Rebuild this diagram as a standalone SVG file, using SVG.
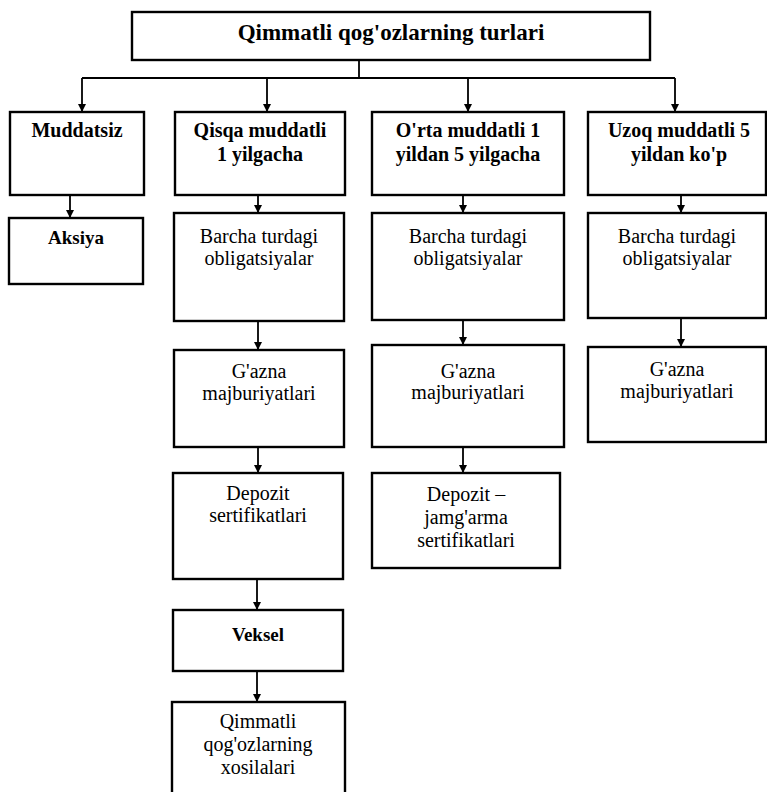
<svg xmlns="http://www.w3.org/2000/svg" width="767" height="792" viewBox="0 0 767 792">
<style>
.box{fill:#fff;stroke:#000;stroke-width:2.4}
.ln{fill:none;stroke:#000;stroke-width:1.8}
text{font-family:"Liberation Serif","Times New Roman",serif;fill:#000;text-anchor:middle}
.t{font-size:23px;font-weight:bold}
.h{font-size:20px;font-weight:bold}
.b{font-size:19px;font-weight:bold}
.n{font-size:20px}
</style>
<defs>
<marker id="arr" viewBox="0 0 10 10" refX="10" refY="5" markerWidth="10" markerHeight="8" markerUnits="userSpaceOnUse" orient="auto">
<path d="M0,0 L10,5 L0,10 z" fill="#000"/>
</marker>
</defs>
<rect width="767" height="792" fill="#fff"/>
<g id="connectors">
<path class="ln" d="M359,60 V78 M82,78 H675"/>
<path class="ln" d="M82,78 V112" marker-end="url(#arr)"/>
<path class="ln" d="M267,78 V112" marker-end="url(#arr)"/>
<path class="ln" d="M468,78 V112" marker-end="url(#arr)"/>
<path class="ln" d="M675,78 V112" marker-end="url(#arr)"/>
<path class="ln" d="M70,195 V218" marker-end="url(#arr)"/>
<path class="ln" d="M258,195 V213" marker-end="url(#arr)"/>
<path class="ln" d="M258,321 V350" marker-end="url(#arr)"/>
<path class="ln" d="M258,447 V473" marker-end="url(#arr)"/>
<path class="ln" d="M257,579 V610" marker-end="url(#arr)"/>
<path class="ln" d="M257,671 V702" marker-end="url(#arr)"/>
<path class="ln" d="M463,195 V213" marker-end="url(#arr)"/>
<path class="ln" d="M463,320 V345" marker-end="url(#arr)"/>
<path class="ln" d="M463,447 V473" marker-end="url(#arr)"/>
<path class="ln" d="M681,195 V213" marker-end="url(#arr)"/>
<path class="ln" d="M681,318 V347" marker-end="url(#arr)"/>
</g>
<g id="title">
<rect class="box" x="132" y="12" width="518" height="48"/>
<text class="t" x="391" y="40">Qimmatli qog'ozlarning turlari</text>
</g>
<g id="muddatsiz">
<rect class="box" x="10" y="112" width="134" height="83"/>
<text class="h" x="77" y="137">Muddatsiz</text>
</g>
<g id="qisqa">
<rect class="box" x="175" y="112" width="170" height="83"/>
<text class="h" x="260" y="137">Qisqa muddatli</text>
<text class="h" x="260" y="161">1 yilgacha</text>
</g>
<g id="orta">
<rect class="box" x="372" y="112" width="192" height="83"/>
<text class="h" x="468" y="137">O'rta muddatli 1</text>
<text class="h" x="468" y="161">yildan 5 yilgacha</text>
</g>
<g id="uzoq">
<rect class="box" x="588" y="112" width="178" height="83"/>
<text class="h" x="679" y="137">Uzoq muddatli 5</text>
<text class="h" x="679" y="161">yildan ko'p</text>
</g>
<g id="aksiya">
<rect class="box" x="9" y="218" width="134" height="66"/>
<text class="b" x="76" y="244">Aksiya</text>
</g>
<g id="q-obligatsiya">
<rect class="box" x="174" y="213" width="170" height="108"/>
<text class="n" x="259" y="243">Barcha turdagi</text>
<text class="n" x="259" y="265">obligatsiyalar</text>
</g>
<g id="q-gazna">
<rect class="box" x="174" y="350" width="170" height="97"/>
<text class="n" x="259" y="378">G'azna</text>
<text class="n" x="259" y="400">majburiyatlari</text>
</g>
<g id="q-depozit">
<rect class="box" x="173" y="473" width="170" height="106"/>
<text class="n" x="258" y="500">Depozit</text>
<text class="n" x="258" y="522">sertifikatlari</text>
</g>
<g id="veksel">
<rect class="box" x="173" y="610" width="170" height="61"/>
<text class="b" x="258" y="641">Veksel</text>
</g>
<g id="xosilalar">
<rect class="box" x="172" y="702" width="173" height="100"/>
<text class="n" x="258" y="728">Qimmatli</text>
<text class="n" x="258" y="751">qog'ozlarning</text>
<text class="n" x="258" y="774">xosilalari</text>
</g>
<g id="o-obligatsiya">
<rect class="box" x="372" y="213" width="192" height="107"/>
<text class="n" x="468" y="243">Barcha turdagi</text>
<text class="n" x="468" y="265">obligatsiyalar</text>
</g>
<g id="o-gazna">
<rect class="box" x="372" y="345" width="192" height="102"/>
<text class="n" x="468" y="378">G'azna</text>
<text class="n" x="468" y="399">majburiyatlari</text>
</g>
<g id="o-depozit">
<rect class="box" x="372" y="473" width="188" height="95"/>
<text class="n" x="466" y="501">Depozit –</text>
<text class="n" x="466" y="524">jamg'arma</text>
<text class="n" x="466" y="547">sertifikatlari</text>
</g>
<g id="u-obligatsiya">
<rect class="box" x="588" y="213" width="178" height="105"/>
<text class="n" x="677" y="243">Barcha turdagi</text>
<text class="n" x="677" y="265">obligatsiyalar</text>
</g>
<g id="u-gazna">
<rect class="box" x="588" y="347" width="178" height="95"/>
<text class="n" x="677" y="376">G'azna</text>
<text class="n" x="677" y="398">majburiyatlari</text>
</g>
</svg>
